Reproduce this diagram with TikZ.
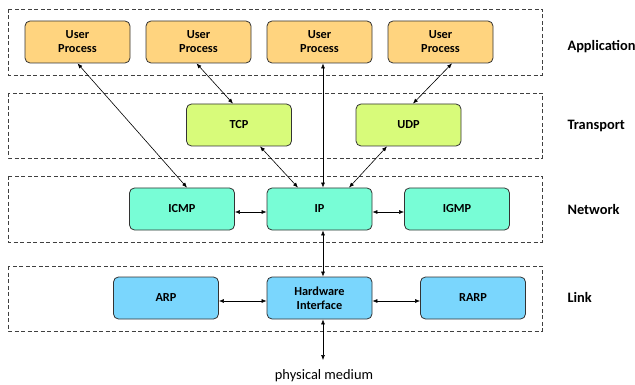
\documentclass[tikz,border=0pt]{standalone}
\usepackage{fontspec}
\setmainfont{Carlito}
\usetikzlibrary{arrows.meta}
\definecolor{procfill}{HTML}{FFD47F}
\definecolor{transfill}{HTML}{D8FB7A}
\definecolor{netfill}{HTML}{78FDD6}
\definecolor{linkfill}{HTML}{7AD6FD}
\tikzset{
	layerbox/.style={draw=black!75, line width=0.7pt, dash pattern=on 4pt off 2.5pt},
	block/.style={draw=black!80, line width=0.8pt, rounded corners=5pt, minimum width=105pt, minimum height=42pt, inner sep=0pt, align=center, font=\bfseries\fontsize{12.3}{14}\selectfont},
	link/.style={{Latex[length=5pt,width=4pt]}-{Latex[length=5pt,width=4pt]}, line width=0.6pt},
	layername/.style={anchor=west, font=\bfseries\fontsize{14.4}{16}\selectfont}
}

\begin{document}
\begin{tikzpicture}[x=1pt, y=-1pt]
			%%%%% START %%%%%
			\useasboundingbox (0,0) rectangle (635,385);
			
			\draw[layerbox] (8, 9) rectangle (542, 75);
			\draw[layerbox] (8, 93) rectangle (542, 158);
			\draw[layerbox] (8, 176) rectangle (542, 242);
			\draw[layerbox] (8, 266) rectangle (542, 331);
			
			\node[layername] (appl) at (564, 47) {Application};
			\node[layername] (trans) at (564, 126) {Transport};
			\node[layername] (netw) at (564, 210) {Network};
			\node[layername] (lnk) at (564, 297) {Link};
			
			\node[block, fill=procfill] (up1) at (77.5, 42) {User\\Process};
			\node[block, fill=procfill] (up2) at (198.5, 42) {User\\Process};
			\node[block, fill=procfill] (up3) at (319.5, 42) {User\\Process};
			\node[block, fill=procfill] (up4) at (440.5, 42) {User\\Process};
			
			\node[block, fill=transfill] (tcp) at (239, 125) {TCP};
			\node[block, fill=transfill] (udp) at (408.5, 125) {UDP};
			
			\node[block, fill=netfill] (icmp) at (182, 209) {ICMP};
			\node[block, fill=netfill] (ip) at (319.5, 209) {IP};
			\node[block, fill=netfill] (igmp) at (457, 209) {IGMP};
			
			\node[block, fill=linkfill] (arp) at (166, 298) {ARP};
			\node[block, fill=linkfill] (hw) at (319.5, 298) {Hardware\\Interface};
			\node[block, fill=linkfill] (rarp) at (473, 298) {RARP};
			
			\coordinate (medium) at (323, 360);
			\node (phys) at (324, 376) {\fontsize{14.4}{16}\selectfont physical medium};
			
			\draw[link] (up1.south) -- ([xshift=5pt]icmp.north);
			\draw[link] ([xshift=-2pt]up2.south) -- ([xshift=-6pt]tcp.north);
			\draw[link] ([xshift=3.5pt]up3.south) -- ([xshift=3.5pt]ip.north);
			\draw[link] ([xshift=11.5pt]up4.south) -- ([xshift=4.5pt]udp.north);
			
			\draw[link] ([xshift=21pt]tcp.south) -- ([xshift=-21.5pt]ip.north);
			\draw[link] ([xshift=-21.5pt]udp.south) -- ([xshift=29.5pt]ip.north);
			
			\draw[link] ([yshift=-3pt]icmp.east) -- ([yshift=-3pt]ip.west);
			\draw[link] ([yshift=-3pt]ip.east) -- ([yshift=-3pt]igmp.west);
			\draw[link] ([xshift=3.5pt]ip.south) -- ([xshift=3.5pt]hw.north);
			
			\draw[link] ([yshift=-3pt]arp.east) -- ([yshift=-3pt]hw.west);
			\draw[link] ([yshift=-3pt]hw.east) -- ([yshift=-3pt]rarp.west);
			\draw[link] ([xshift=3.5pt]hw.south) -- (medium);
			
			%%%%% END %%%%%
\end{tikzpicture}
\end{document}
